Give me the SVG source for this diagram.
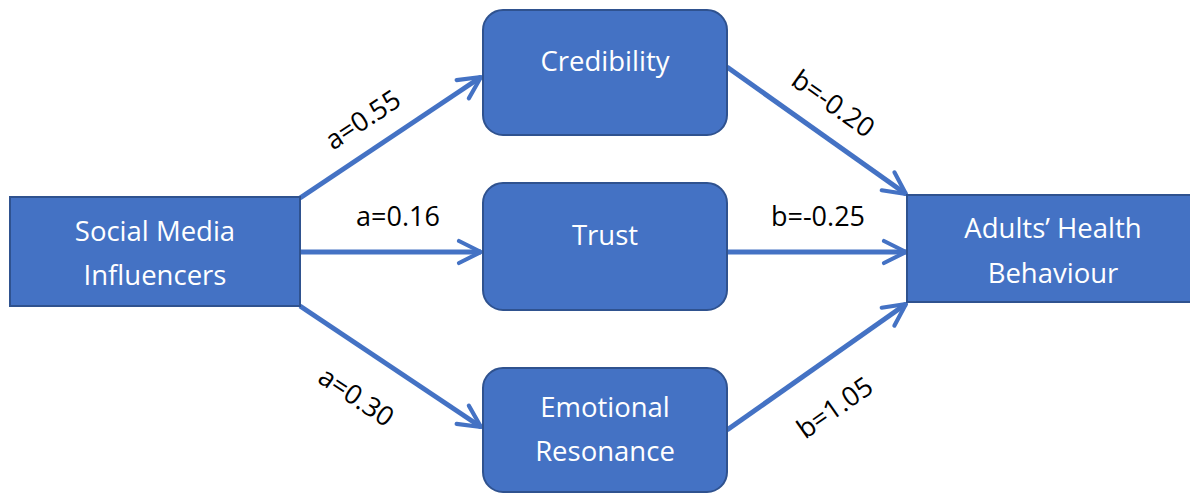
<svg xmlns="http://www.w3.org/2000/svg" width="1190" height="493" viewBox="0 0 1190 493">
  <style>
    .box { fill: #4472C4; stroke: #2F528F; stroke-width: 2; }
    .nodetext { fill: #ffffff; font-family: "Open Sans", "Liberation Sans", sans-serif; font-size: 27.5px; text-anchor: middle; }
    .edge { stroke: #4472C4; stroke-width: 5; fill: none; marker-end: url(#arrow); }
    .lbl { fill: #000000; font-family: "Open Sans", "Liberation Sans", sans-serif; font-size: 27px; text-anchor: middle; }
  </style>
  <defs>
    <marker id="arrow" viewBox="0 0 10 10" refX="9" refY="5" markerWidth="5.5" markerHeight="5.5" orient="auto" markerUnits="strokeWidth">
      <path d="M1,1 L9,5 L1,9" fill="none" stroke="#4472C4" stroke-width="1.5" stroke-linecap="round" stroke-linejoin="round"/>
    </marker>
  </defs>
  <rect width="1190" height="493" fill="#ffffff"/>

  <g id="connectors">
    <line class="edge" x1="300" y1="198" x2="481" y2="77"/>
    <line class="edge" x1="300" y1="252" x2="481" y2="252"/>
    <line class="edge" x1="300" y1="306" x2="481" y2="427"/>
    <line class="edge" x1="727" y1="67" x2="906" y2="194"/>
    <line class="edge" x1="727" y1="252" x2="906" y2="252"/>
    <line class="edge" x1="727" y1="430" x2="906" y2="304"/>
    <text class="lbl" transform="translate(363,120) rotate(-33.6)" y="9">a=0.55</text>
    <text class="lbl" x="398" y="226">a=0.16</text>
    <text class="lbl" transform="translate(356,397) rotate(33.8)" y="9">a=0.30</text>
    <text class="lbl" transform="translate(833,104) rotate(35.4)" y="9">b=-0.20</text>
    <text class="lbl" x="818" y="226">b=-0.25</text>
    <text class="lbl" transform="translate(835,408) rotate(-35)" y="9">b=1.05</text>
  </g>

  <g id="social-media-influencers">
    <rect class="box" x="10" y="197" width="290" height="109"/>
    <text class="nodetext" x="155" y="241">Social Media</text>
    <text class="nodetext" x="155" y="285">Influencers</text>
  </g>
  <g id="credibility">
    <rect class="box" x="483" y="10" width="244" height="125" rx="20"/>
    <text class="nodetext" x="605" y="71">Credibility</text>
  </g>
  <g id="trust">
    <rect class="box" x="483" y="183" width="244" height="127" rx="20"/>
    <text class="nodetext" x="605" y="245">Trust</text>
  </g>
  <g id="emotional-resonance">
    <rect class="box" x="483" y="368" width="244" height="124" rx="20"/>
    <text class="nodetext" x="605" y="417">Emotional</text>
    <text class="nodetext" x="605" y="461">Resonance</text>
  </g>
  <g id="adults-health-behaviour">
    <rect class="box" x="907" y="195" width="290" height="107"/>
    <text class="nodetext" x="1053" y="238">Adults’ Health</text>
    <text class="nodetext" x="1053" y="283">Behaviour</text>
  </g>
</svg>
